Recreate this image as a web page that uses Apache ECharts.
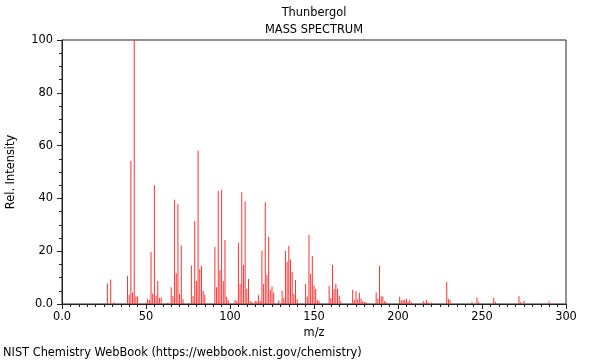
<!DOCTYPE html>
<html>
<head>
<meta charset="utf-8">
<script src="https://cdn.jsdelivr.net/npm/echarts@6/dist/echarts.min.js"></script>
<style>
html,body{margin:0;padding:0;background:#fff;}
#chart{width:600px;height:360px;}
</style>
</head>
<body>
<div id="chart"></div>
<script>
var titleText = 'Thunbergol';
var subTitleText = 'MASS SPECTRUM';
var xAxisName = 'm/z';
var yAxisName = 'Rel. Intensity';
var footerText = 'NIST Chemistry WebBook (https://webbook.nist.gov/chemistry)';

var mz = [27,29,31,39,40,41,42,43,44,45,50,51,52,53,54,55,56,57,58,59,63,65,66,67,68,69,70,71,72,
  77,78,79,80,81,82,83,84,85,91,92,93,94,95,96,97,98,99,103,104,105,106,107,108,109,110,111,112,113,
  115,116,117,118,119,120,121,122,123,124,125,126,129,131,132,133,134,135,136,137,138,139,140,
  145,146,147,148,149,150,151,152,153,159,160,161,162,163,164,165,166,173,174,175,176,177,178,179,180,181,
  187,188,189,190,191,192,193,201,202,203,204,205,206,207,208,215,216,217,218,220,229,230,231,244,247,248,257,258,272,273,275,290];
var intensity = [7.8,9.3,0.7,10.6,3.5,54.3,4.4,100,2.9,2.8,0.5,2.0,1.5,19.7,4.0,45.0,3.1,8.7,2.4,2.5,0.5,6.3,3.0,39.5,11.6,37.9,3.8,22.2,1.8,
  14.6,3.0,31.4,8.7,58.1,13.3,14.5,5.0,3.6,21.6,6.3,42.8,12.9,43.3,8.7,24.2,2.7,1.3,1.5,0.9,23.1,7.6,42.3,14.8,38.9,5.8,9.5,1.0,0.9,
  1.2,1.0,3.3,1.2,20.2,7.6,38.5,11.0,25.5,5.3,6.6,4.4,1.3,5.0,2.1,20.1,16.0,22.0,16.9,12.2,3.8,9.1,1.9,
  7.6,2.8,26.1,11.4,18.2,7.1,5.7,1.5,1.2,6.9,2.3,14.8,5.7,7.6,5.8,3.1,1.0,5.3,1.5,4.8,1.8,4.3,2.1,1.0,0.8,0.6,
  4.4,2.0,14.4,2.9,2.8,1.0,0.7,2.7,1.3,1.6,1.5,2.0,0.8,1.6,0.7,1.1,0.6,1.5,0.6,0.6,8.3,1.9,1.5,0.8,2.5,0.8,2.5,0.8,3.0,0.8,1.1,0.9];

var xTicks = {min: 0, max: 300, step: 50};
var yTicks = {min: 0, max: 100, step: 20};

var data = mz.map(function (m, i) { return [m, intensity[i]]; });

var font = 'DejaVu Sans';
var fs = 11.4;
var chart = echarts.init(document.getElementById('chart'), null, {renderer: 'canvas'});
function fmt(v) { return v === 0 ? '0.0' : String(v); }
chart.setOption({
  animation: false,
  backgroundColor: '#fff',
  textStyle: {fontFamily: font},
  grid: {left: 62, right: 34, top: 40, bottom: 56, show: true, borderColor: '#222', borderWidth: 1,
    backgroundColor: 'transparent', containLabel: false, outerBoundsMode: 'none'},
  xAxis: {
    type: 'value', min: xTicks.min, max: xTicks.max, interval: xTicks.step,
    name: xAxisName, nameLocation: 'middle', nameGap: 23,
    nameTextStyle: {fontFamily: font, fontSize: fs, color: '#000'},
    axisLine: {show: true, onZero: false, lineStyle: {color: '#222', width: 1}},
    axisTick: {show: true, inside: false, length: 5, lineStyle: {color: '#222'}},
    minorTick: {show: true, splitNumber: 10, length: 3, lineStyle: {color: '#222'}},
    axisLabel: {formatter: fmt, fontFamily: font, fontSize: fs, color: '#000', margin: 8},
    splitLine: {show: false}
  },
  yAxis: {
    type: 'value', min: yTicks.min, max: yTicks.max, interval: yTicks.step,
    name: yAxisName, nameLocation: 'middle', nameGap: 45, nameRotate: 90,
    nameTextStyle: {fontFamily: font, fontSize: fs, color: '#000'},
    axisLine: {show: true, onZero: false, lineStyle: {color: '#222', width: 1}},
    axisTick: {show: true, inside: false, length: 5, lineStyle: {color: '#222'}},
    minorTick: {show: true, splitNumber: 4, length: 3, lineStyle: {color: '#222'}},
    axisLabel: {formatter: fmt, fontFamily: font, fontSize: fs, color: '#000', margin: 9},
    splitLine: {show: false}
  },
  series: [{
    type: 'bar',
    data: data,
    barWidth: 1,
    barGap: '0%',
    itemStyle: {color: '#ff3333'},
    emphasis: {disabled: true}
  }],
  graphic: [
    {type: 'text', x: 314, y: 13, style: {text: titleText, font: fs + 'px "DejaVu Sans"', fill: '#000', align: 'center', verticalAlign: 'middle'}},
    {type: 'text', x: 314, y: 30, style: {text: subTitleText, font: fs + 'px "DejaVu Sans"', fill: '#000', align: 'center', verticalAlign: 'middle'}},
    {type: 'text', x: 3, y: 353, style: {text: footerText, font: fs + 'px "DejaVu Sans"', fill: '#000', align: 'left', verticalAlign: 'middle'}}
  ]
});
</script>
</body>
</html>
